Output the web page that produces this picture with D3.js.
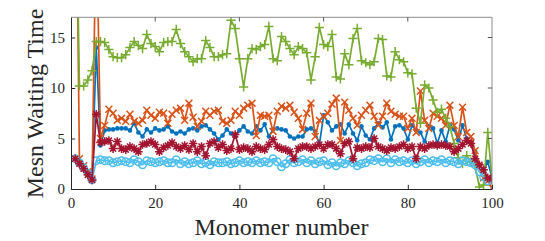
<!DOCTYPE html>
<html><head><meta charset="utf-8">
<script src="https://cdn.jsdelivr.net/npm/d3@7"></script>
<style>body{margin:0;background:#fff}svg{display:block}text{font-family:"Liberation Serif","Times New Roman",serif;fill:#262626}</style>
</head><body><svg id="c" width="545" height="241"></svg>
<script>
const monomers = d3.range(1, 101);
const xTicks = [0, 20, 40, 60, 80, 100];
const yTicks = [0, 5, 10, 15];
const xLabel = "Monomer number";
const yLabel = "Mesn Waiting Time";

const blueDot = [3.0,2.6,2.1,1.6,1.0,14.0,4.3,5.8,5.9,5.9,6.0,6.0,6.0,5.8,6.5,5.6,5.2,5.9,5.6,6.0,
5.8,5.9,6.2,5.7,5.5,5.7,5.5,5.9,6.0,5.8,6.2,6.3,5.9,5.5,4.9,5.3,5.9,5.5,5.2,5.8,
6.2,5.7,5.5,6.2,5.8,6.4,5.2,5.9,6.0,5.9,5.8,5.2,5.0,5.2,5.2,5.9,6.0,5.7,4.4,7.3,
6.6,5.8,6.2,6.4,5.5,6.4,5.5,4.8,6.2,5.3,4.9,6.0,6.5,6.1,6.6,4.9,6.2,6.3,6.0,4.9,
6.3,5.8,5.6,4.7,6.2,6.0,4.5,5.8,4.7,6.3,5.9,4.8,6.3,5.0,4.6,3.7,2.3,1.8,2.7,1.1];

const orangeX = [40,3.0,2.3,1.7,1.0,27,5.0,6.3,7.9,7.5,6.8,7.0,6.7,7.4,6.7,6.5,6.8,7.8,7.3,7.0,
7.6,7.5,6.5,7.4,7.8,8.0,6.8,8.5,7.1,6.2,6.7,7.7,7.3,7.7,7.8,6.7,6.5,6.8,7.7,7.3,
8.0,8.3,8.5,5.3,7.3,7.2,7.3,5.7,7.7,8.2,8.0,8.3,7.6,7.0,5.9,7.5,8.5,5.2,6.8,7.2,
7.5,8.4,9.0,4.8,8.6,7.8,7.0,6.3,7.3,7.8,8.3,7.2,6.3,7.2,8.5,7.7,7.4,7.2,7.2,6.0,
7.0,5.6,9.7,6.8,6.0,7.5,7.2,7.0,6.3,8.3,6.3,5.2,8.1,5.6,5.2,3.8,2.2,1.1,0.8,0.1];

const greenPlus = [36,10.2,10.2,10.8,11.7,14.6,14.6,14.5,13.8,13.1,13.0,13.0,13.3,14.0,14.6,14.2,13.9,15.3,14.4,14.1,
13.6,14.5,14.6,14.6,15.8,14.4,13.6,13.1,12.6,12.9,12.9,14.7,14.0,13.1,13.1,13.3,13.4,16.7,15.9,12.9,
10.1,12.9,13.9,13.8,14.1,14.3,16.1,12.9,12.7,15.1,14.6,13.9,13.3,14.1,13.9,13.5,10.8,13.1,16.0,14.3,
14.1,15.3,11.1,10.9,13.4,12.3,14.9,15.9,12.7,12.5,12.3,12.6,14.9,14.8,11.2,11.1,13.6,12.8,12.6,11.5,
11.4,8.0,6.5,10.3,10.0,8.8,7.6,7.9,7.0,6.2,4.5,3.1,2.5,3.3,2.7,2.3,0.2,0.4,5.6,1.0];

const lightBlueO = [3.0,2.6,2.1,1.6,0.9,2.8,2.9,2.8,2.8,2.6,2.7,2.8,2.7,2.6,2.9,2.7,2.4,2.8,2.7,2.6,
2.7,2.8,2.6,2.6,2.9,2.5,2.7,2.5,2.6,2.8,2.5,2.6,2.4,2.7,2.6,2.6,2.7,2.5,2.6,2.8,
2.6,2.7,2.6,2.8,2.6,2.7,2.6,3.0,2.7,2.2,2.5,2.9,2.6,2.7,2.9,2.6,2.8,2.5,2.7,2.8,
2.4,2.6,2.3,2.6,2.5,2.8,2.6,2.3,2.5,2.6,2.9,2.8,3.0,2.7,3.0,2.6,2.9,2.7,2.8,2.6,
2.8,2.5,2.7,2.9,2.6,2.8,2.7,2.9,2.6,2.8,2.7,2.5,2.8,2.7,2.6,2.4,1.7,1.2,0.8,0.9];

const darkRedStar = [3.0,2.5,2.0,1.4,0.9,7.4,4.6,4.7,4.8,4.0,4.7,4.0,3.9,4.2,4.0,3.7,4.4,4.5,4.7,4.4,
3.7,4.1,4.3,4.6,4.2,4.0,4.3,3.9,4.5,3.7,4.2,3.3,4.5,4.7,4.1,4.4,3.8,4.0,5.4,3.9,
4.1,4.0,3.7,4.2,4.0,3.9,4.4,4.9,4.2,4.0,3.9,3.7,3.0,4.0,4.2,4.2,4.0,4.2,4.4,4.0,
4.4,4.4,4.0,3.5,4.5,4.7,3.0,4.1,4.0,4.2,4.1,5.0,4.2,4.0,3.8,4.1,4.0,4.2,4.4,4.0,
4.2,3.0,4.2,4.0,4.3,4.4,4.3,4.4,4.3,4.2,3.7,4.0,4.4,4.8,4.5,3.0,2.4,1.9,1.1,1.0];

const series = [
  {values: blueDot, color: "#0072BD", marker: "dot"},
  {values: orangeX, color: "#D95319", marker: "x"},
  {values: greenPlus, color: "#77AC30", marker: "plus"},
  {values: lightBlueO, color: "#4DBEEE", marker: "circle"},
  {values: darkRedStar, color: "#A2142F", marker: "star"}
];

const svg = d3.select("#c");
const L = 71, R = 492, T = 17.3, B = 189;
const x = d3.scaleLinear().domain([0, 100]).range([L, R]);
const y = d3.scaleLinear().domain([0, 17]).range([B, T]);

svg.append("defs").append("clipPath").attr("id", "clip")
  .append("rect").attr("x", L).attr("y", T).attr("width", R - L).attr("height", B - T);

const markerPath = {
  plus: r => `M${-r},0H${r}M0,${-r}V${r}`,
  x: r => `M${-r*0.75},${-r*0.75}L${r*0.75},${r*0.75}M${-r*0.75},${r*0.75}L${r*0.75},${-r*0.75}`,
  star: r => `M${-r},0H${r}M0,${-r}V${r}M${-r*0.7},${-r*0.7}L${r*0.7},${r*0.7}M${-r*0.7},${r*0.7}L${r*0.7},${-r*0.7}`
};

const plot = svg.append("g").attr("clip-path", "url(#clip)");
const line = d3.line().x((d, i) => x(monomers[i])).y(d => y(d));

series.forEach(s => {
  const g = plot.append("g");
  g.append("path").datum(s.values).attr("d", line)
    .attr("fill", "none").attr("stroke", s.color).attr("stroke-width", 1.7).attr("stroke-linejoin", "round");
  const pts = g.selectAll(".m").data(s.values).enter();
  if (s.marker === "dot") {
    pts.append("circle").attr("cx", (d, i) => x(monomers[i])).attr("cy", d => y(d)).attr("r", 2.3).attr("fill", s.color);
  } else if (s.marker === "circle") {
    pts.append("circle").attr("cx", (d, i) => x(monomers[i])).attr("cy", d => y(d)).attr("r", 3.7)
      .attr("fill", "none").attr("stroke", s.color).attr("stroke-width", 1.5);
  } else {
    const r = s.marker === "plus" ? 4.6 : (s.marker === "star" ? 4.3 : 4.6);
    pts.append("path").attr("transform", (d, i) => `translate(${x(monomers[i])},${y(d)})`)
      .attr("d", markerPath[s.marker](r)).attr("fill", "none").attr("stroke", s.color).attr("stroke-width", 1.5);
  }
});

// box
svg.append("line").attr("x1", L).attr("x2", R).attr("y1", T).attr("y2", T).attr("stroke", "#8c8c8c").attr("stroke-width", 1);
svg.append("line").attr("x1", R).attr("x2", R).attr("y1", T).attr("y2", B).attr("stroke", "#8c8c8c").attr("stroke-width", 1);

const xAxis = svg.append("g").attr("transform", `translate(0,${B})`)
  .call(d3.axisBottom(x).tickValues(xTicks).tickSizeInner(-4.2).tickSizeOuter(0).tickPadding(8));
const yAxis = svg.append("g").attr("transform", `translate(${L},0)`)
  .call(d3.axisLeft(y).tickValues(yTicks).tickSizeInner(-4.2).tickSizeOuter(0).tickPadding(6));
[xAxis, yAxis].forEach(a => {
  a.select(".domain").attr("stroke", "#262626");
  a.selectAll(".tick line").attr("stroke", "#262626");
  a.selectAll(".tick text").style("font-family", '"Liberation Serif","Times New Roman",serif').style("font-size", "15px").attr("fill", "#262626");
});
// top and right ticks
svg.append("g").selectAll("line").data(xTicks.slice(1, -1)).enter().append("line")
  .attr("x1", d => x(d)).attr("x2", d => x(d)).attr("y1", T).attr("y2", T + 4.2).attr("stroke", "#555");
svg.append("g").selectAll("line").data(yTicks.slice(1)).enter().append("line")
  .attr("x1", R - 4.2).attr("x2", R).attr("y1", d => y(d)).attr("y2", d => y(d)).attr("stroke", "#555");

svg.append("text").attr("x", (L + R) / 2).attr("y", 235).attr("text-anchor", "middle")
  .style("font-size", "24px").text(xLabel);
svg.append("text").attr("transform", `translate(43,${103.5}) rotate(-90)`).attr("text-anchor", "middle")
  .style("font-size", "24px").text(yLabel);
</script></body></html>
